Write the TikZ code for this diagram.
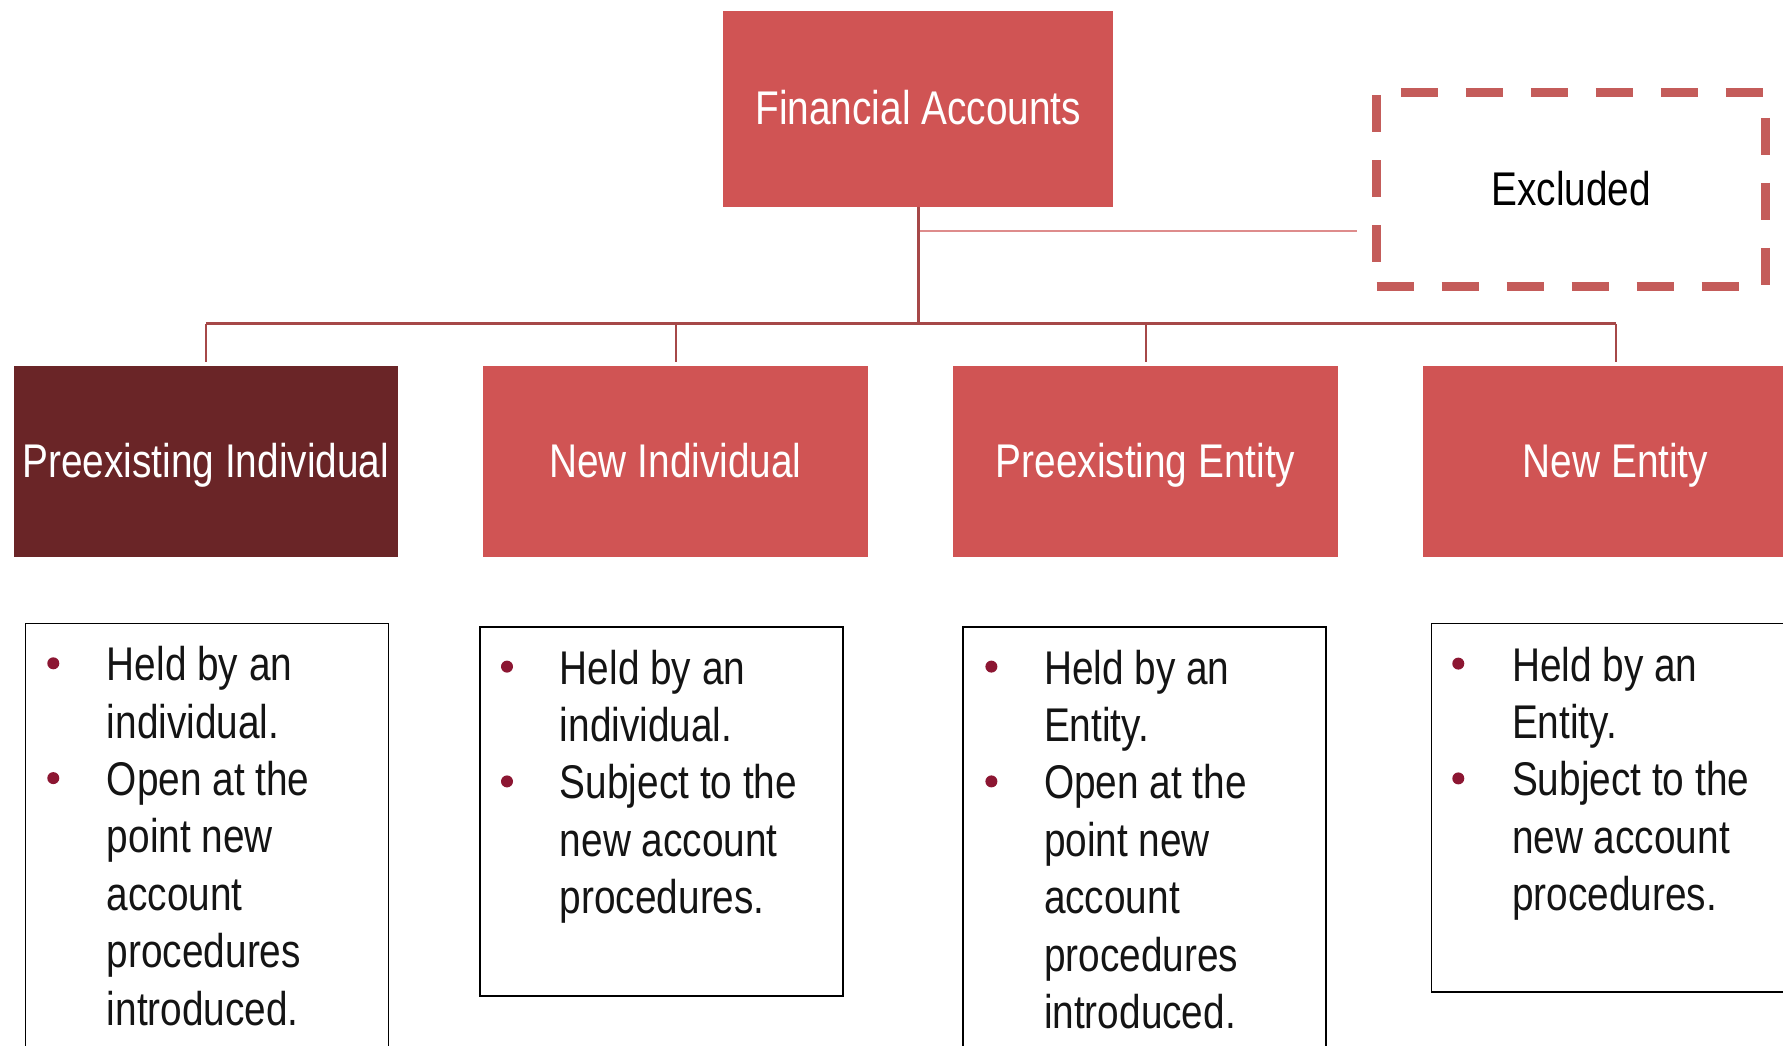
\documentclass[tikz,border=0pt]{standalone}
\usepackage{fontspec}
\setmainfont{Liberation Sans}[FakeStretch=0.82]
\definecolor{boxred}{RGB}{208,84,84}
\definecolor{boxdark}{RGB}{106,37,39}
\definecolor{treecol}{RGB}{166,72,72}
\definecolor{exlinecol}{RGB}{222,140,140}
\definecolor{exdashcol}{RGB}{196,92,90}
\definecolor{bulcol}{RGB}{140,22,50}
\definecolor{txtcol}{RGB}{20,20,20}
\begin{document}
\begin{tikzpicture}[x=1pt,y=-1pt,
  titletext/.style={rectangle, inner sep=0pt, font=\fontsize{47.3}{56}\selectfont, text height=31pt, text depth=0pt},
  lvl/.style={titletext, text=white, fill=boxred, minimum width=385pt, minimum height=191pt},
  tree/.style={draw=treecol, line width=2.7pt},
  exline/.style={draw=exlinecol, line width=1.5pt},
  exdash/.style={draw=exdashcol, line width=9pt, dash pattern=on 37pt off 28pt},
  listbox/.style={rectangle, draw=black, line width=1.3pt, inner sep=0pt, minimum width=363pt},
  listline/.style={anchor=base west, inner sep=0pt, text=txtcol, font=\fontsize{47.3}{57.4}\selectfont},
  bulletdot/.style={circle, fill=bulcol, inner sep=0pt, minimum size=12pt}
]
\useasboundingbox (0,0) rectangle (1783,1045);
\clip (0,0) rectangle (1783,1045);

% top node
\node[titletext, text=white, fill=boxred, minimum width=390.5pt, minimum height=196pt] (fa) at (918.2,109) {Financial Accounts};

% excluded
\node[titletext, text=black, minimum width=389pt, minimum height=194pt] (ex) at (1571.2,189.5) {Excluded};
\draw[exdash, dash phase=40.7pt] (ex.north west) -- (ex.north east);
\draw[exdash, dash phase=39.5pt] (ex.north east) -- (ex.south east);
\draw[exdash, dash phase=0pt] (ex.south west) -- (ex.south east);
\draw[exdash, dash phase=62pt] (ex.north west) -- (ex.south west);

% level 2
\node[lvl, fill=boxdark, minimum width=384.4pt] (pi) at (205.8,461.5) {Preexisting Individual};
\node[lvl] (ni) at (675.5,461.5) {New Individual};
\node[lvl] (pe) at (1145.5,461.5) {Preexisting Entity};
\node[lvl] (ne) at (1615.5,461.5) {New Entity};

% connectors
\coordinate (bar) at (918.2,323.5);
\coordinate (exs) at (919.5,231);
\draw[exline, shorten >=20pt] (exs) -- (exs -| ex.west);
\draw[tree] (fa.south) -- (bar);
\draw[tree] (pi.north |- bar) -- (ne.north |- bar);
\foreach \n in {pi,ni,pe,ne}
  \draw[tree, line width=2pt, shorten >=3.5pt] (\n.north |- bar) -- (\n.north);

% list boxes
\node[listbox, minimum height=500pt] (l1) at (207.2,873.5) {};
\node[listbox, minimum height=369pt] (l2) at (661.4,811.5) {};
\node[listbox, minimum height=500pt] (l3) at (1144.5,877) {};
\node[listbox, minimum height=368.5pt] (l4) at (1613.1,807.75) {};

% list 1
\foreach \t [count=\i] in {Held by an, individual., Open at the, point new, account, procedures, introduced.}
  \node[listline] (a\i) at (106.7,{680.7+57.4*(\i-1)}) {\t};
\node[bulletdot] (da1) at (53.3,663.3) {};
\node[bulletdot] (da2) at (53.3,{663.3+2*57.4}) {};

% list 2
\foreach \t [count=\i] in {Held by an, individual., Subject to the, new account, procedures.}
  \node[listline] (b\i) at (559.7,{684+57.4*(\i-1)}) {\t};
\node[bulletdot] (db1) at (507,666.6) {};
\node[bulletdot] (db2) at (507,{666.6+2*57.4}) {};

% list 3
\foreach \t [count=\i] in {Held by an, Entity., Open at the, point new, account, procedures, introduced.}
  \node[listline] (c\i) at (1043.8,{684+57.4*(\i-1)}) {\t};
\node[bulletdot] (dc1) at (991.4,666.6) {};
\node[bulletdot] (dc2) at (991.4,{666.6+2*57.4}) {};

% list 4
\foreach \t [count=\i] in {Held by an, Entity., Subject to the, new account, procedures.}
  \node[listline] (e\i) at (1511.9,{681+57.4*(\i-1)}) {\t};
\node[bulletdot] (de1) at (1458.3,663.6) {};
\node[bulletdot] (de2) at (1458.3,{663.6+2*57.4}) {};
\end{tikzpicture}
\end{document}
